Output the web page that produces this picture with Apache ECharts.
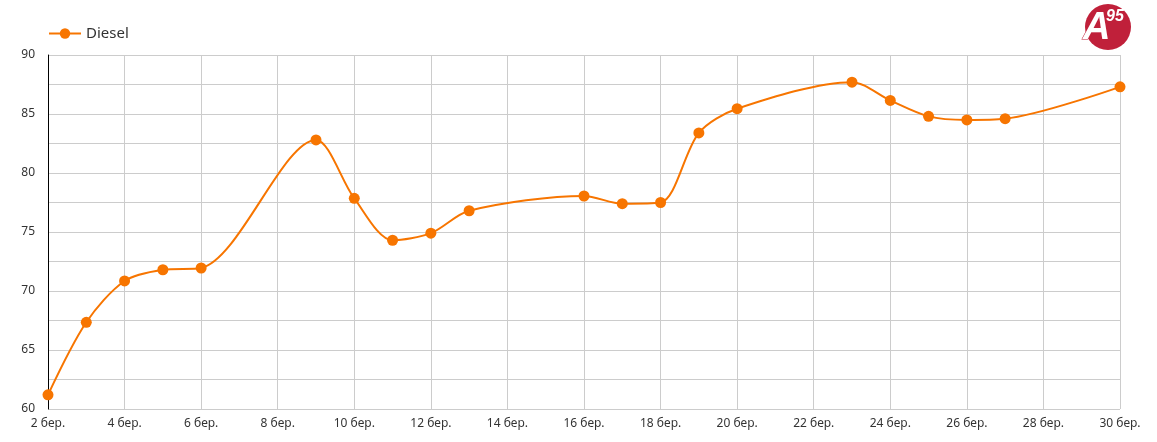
<!DOCTYPE html>
<html>
<head>
<meta charset="utf-8">
<script src="https://cdn.jsdelivr.net/npm/echarts@6/dist/echarts.min.js"></script>
<style>
html,body{margin:0;padding:0;background:#fff;}
#chart{width:1157px;height:442px;}
</style>
</head>
<body>
<div id="chart"></div>
<script>
const days = [2, 3, 4, 5, 6, 9, 10, 11, 12, 13, 16, 17, 18, 19, 20, 23, 24, 25, 26, 27, 30];
const diesel = [61.2, 67.35, 70.85, 71.8, 71.95, 82.8, 77.85, 74.3, 74.9, 76.8, 78.05, 77.4, 77.5, 83.4, 85.45, 87.7, 86.15, 84.8, 84.5, 84.6, 87.3];
const monthLabel = 'бер.';
const seriesName = 'Diesel';

const chart = echarts.init(document.getElementById('chart'));
const font = 'Noto Sans, sans-serif';
const orange = '#f77500';
chart.setOption({
  animation: false,
  textStyle: { fontFamily: font },
  legend: {
    left: 43, top: 21,
    itemWidth: 32, itemHeight: 13,
    itemGap: 10,
    textStyle: { fontSize: 15, color: '#333', fontFamily: font },
    data: [seriesName]
  },
  grid: { left: 48, right: 37, top: 55, bottom: 33, containLabel: false },
  xAxis: {
    type: 'value', min: 2, max: 30, interval: 2,
    axisLine: { show: false },
    axisTick: { show: false },
    axisLabel: { color: '#333', fontSize: 12, margin: 9, formatter: v => v + ' ' + monthLabel },
    splitLine: { show: true, lineStyle: { color: '#cccccc', width: 1 } }
  },
  yAxis: {
    type: 'value', min: 60, max: 90, interval: 2.5,
    axisLine: { show: true, lineStyle: { color: '#000', width: 1 } },
    axisTick: { show: false },
    axisLabel: { color: '#333', fontSize: 12, margin: 13, formatter: v => (v % 5 === 0 ? String(v) : '') },
    splitLine: { show: true, lineStyle: { color: '#cccccc', width: 1 } }
  },
  graphic: [
    { type: 'circle', shape: { cx: 1108, cy: 27, r: 23 }, style: { fill: '#c0203a' } },
    { type: 'text', style: { x: 1083, y: 10, text: 'A', font: 'italic bold 38px Liberation Sans, sans-serif', fill: '#fff', stroke: '#c0203a', lineWidth: 1 } },
    { type: 'text', style: { x: 1106, y: 9, text: '95', font: 'italic bold 16px Liberation Sans, sans-serif', fill: '#fff' } }
  ],
  series: [{
    name: seriesName,
    type: 'line',
    smooth: 0.3,
    data: days.map((d, i) => [d, diesel[i]]),
    symbol: 'circle', symbolSize: 11,
    lineStyle: { color: orange, width: 2 },
    itemStyle: { color: orange }
  }]
});
</script>
</body>
</html>
